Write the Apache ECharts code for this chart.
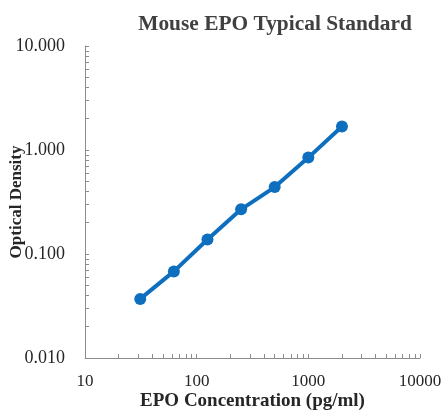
<!DOCTYPE html>
<html>
<head>
<meta charset="utf-8">
<script src="https://cdn.jsdelivr.net/npm/echarts@6/dist/echarts.min.js"></script>
<style>html,body{margin:0;padding:0;background:#fff}#c{width:442px;height:412px}</style>
</head>
<body>
<div id="c"></div>
<script>
var concentrations = [31.25, 62.5, 125, 250, 500, 1000, 2000];
var opticalDensity = [0.037, 0.068, 0.138, 0.269, 0.44, 0.845, 1.68];
var xTickValues = [10,20,30,40,50,60,70,80,90,100,200,300,400,500,600,700,800,900,1000,2000,3000,4000,5000,6000,7000,8000,9000,10000];
var xLabelValues = [10, 100, 1000, 10000];
var yTickValues = [0.01,0.02,0.03,0.04,0.05,0.06,0.07,0.08,0.09,0.1,0.2,0.3,0.4,0.5,0.6,0.7,0.8,0.9,1,2,3,4,5,6,7,8,9,10];
var yLabelValues = [0.01, 0.1, 1, 10];

var serif = '"Liberation Serif", "Times New Roman", serif';
var chart = echarts.init(document.getElementById('c'));
chart.setOption({
  animation: false,
  title: {
    text: 'Mouse EPO Typical Standard',
    left: 270, top: 9, textAlign: 'center',
    textStyle: {fontFamily: serif, fontWeight: 'bold', fontSize: 21.4, color: '#404040'}
  },
  grid: {left: 85, right: 22, top: 46, bottom: 54, outerBoundsMode: 'none', containLabel: false},
  xAxis: {
    type: 'log', logBase: 10, min: 10, max: 10000,
    name: 'EPO Concentration (pg/ml)', nameLocation: 'middle', nameGap: 34, nameMoveOverlap: false,
    nameTextStyle: {fontFamily: serif, fontWeight: 'bold', fontSize: 19, color: '#262626'},
    axisLine: {show: true, lineStyle: {color: '#8c8c8c', width: 1}},
    axisTick: {show: true, inside: true, length: 4, customValues: xTickValues, lineStyle: {color: '#8c8c8c'}},
    axisLabel: {customValues: xLabelValues, margin: 15, fontFamily: serif, fontSize: 17, color: '#262626',
      formatter: function (v) { return String(Math.round(v)); }},
    splitLine: {show: false}
  },
  yAxis: {
    type: 'log', logBase: 10, min: 0.01, max: 10,
    name: 'Optical Density', nameLocation: 'middle', nameGap: 60, nameMoveOverlap: false,
    nameTextStyle: {fontFamily: serif, fontWeight: 'bold', fontSize: 17, color: '#262626'},
    axisLine: {show: true, lineStyle: {color: '#8c8c8c', width: 1}},
    axisTick: {show: true, inside: true, length: 4, customValues: yTickValues, lineStyle: {color: '#8c8c8c'}},
    axisLabel: {customValues: yLabelValues, margin: 20, fontFamily: serif, fontSize: 18, color: '#262626',
      formatter: function (v) { return v.toFixed(3); }},
    splitLine: {show: false}
  },
  series: [{
    type: 'line',
    data: concentrations.map(function (c, i) { return [c, opticalDensity[i]]; }),
    symbol: 'circle', symbolSize: 12,
    lineStyle: {color: '#0f6fbf', width: 4},
    itemStyle: {color: '#0f6fbf'}
  }]
});
</script>
</body>
</html>
